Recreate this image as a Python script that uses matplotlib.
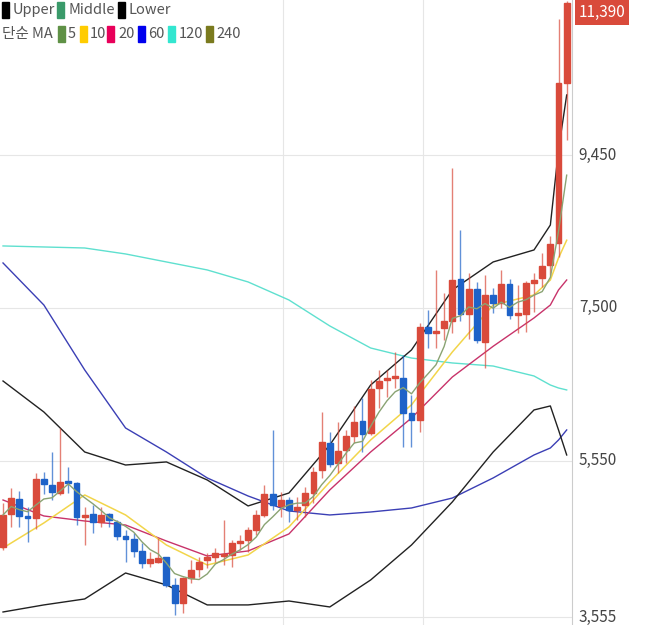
import numpy as np
import matplotlib.pyplot as plt
from matplotlib.patches import Rectangle

plt.rcParams['font.family'] = ['Noto Sans CJK KR', 'DejaVu Sans']

# daily candles: open, close, high, low
opens = [4452, 4873, 5064, 4834, 4822, 5319, 5242, 5140, 5281, 5268,
         4834, 4873, 4771, 4873, 4771, 4592, 4554, 4401, 4248, 4261,
         4324, 3968, 3738, 4057, 4171, 4286, 4324, 4337, 4350, 4503,
         4541, 4669, 4860, 5128, 4975, 5051, 4924, 4988, 5140, 5434,
         5778, 5523, 5689, 5867, 6058, 5905, 6479, 6581, 6606, 6606,
         6160, 6071, 7257, 7180, 7244, 7333, 7869, 7423, 7741, 7066,
         7665, 7563, 7805, 7410, 7423, 7818, 7882, 8047, 8328, 10368]
closes = [4860, 5076, 4847, 4822, 5319, 5255, 5153, 5281, 5268, 4834,
          4860, 4771, 4860, 4796, 4592, 4554, 4401, 4248, 4299, 4312,
          3968, 3738, 4057, 4159, 4261, 4324, 4375, 4337, 4503, 4528,
          4669, 4860, 5128, 4988, 5051, 4924, 4962, 5140, 5408, 5791,
          5510, 5676, 5867, 6046, 5893, 6466, 6568, 6606, 6619, 6160,
          6071, 7257, 7180, 7206, 7333, 7856, 7423, 7741, 7091, 7665,
          7563, 7805, 7410, 7423, 7818, 7856, 8034, 8315, 10368, 11390]
highs = [5013, 5204, 5166, 4962, 5396, 5408, 5663, 5970, 5472, 5281,
         4962, 4988, 4962, 4886, 4796, 4669, 4630, 4503, 4388, 4566,
         4324, 4057, 4069, 4286, 4324, 4375, 4439, 4796, 4541, 4605,
         4707, 4924, 5242, 5944, 5153, 5089, 5089, 5217, 5472, 6173,
         5918, 6046, 5944, 6250, 6351, 6581, 6709, 6709, 6938, 6900,
         6390, 7308, 7474, 7984, 7690, 9284, 8493, 7945, 7831, 7920,
         7754, 7984, 7869, 7792, 7843, 7945, 8200, 8417, 11184, 11413]
lows = [4414, 4707, 4707, 4516, 4681, 5128, 5051, 5115, 5140, 4732,
        4477, 4630, 4707, 4707, 4541, 4261, 4324, 4184, 4197, 4248,
        3942, 3585, 3610, 3993, 4069, 4184, 4261, 4222, 4197, 4414,
        4388, 4605, 4834, 4924, 4834, 4771, 4796, 4834, 5013, 5332,
        5472, 5396, 5523, 5778, 5663, 5880, 6224, 6364, 6479, 5727,
        5727, 5918, 6989, 6989, 7091, 7180, 7333, 7104, 7053, 6734,
        7435, 7499, 7359, 7180, 7193, 7448, 7767, 7920, 8149, 9641]

# indicator lines read at these candle indices
line_idx = [0, 5, 10, 15, 20, 25, 30, 35, 40, 45, 50, 55, 60, 65, 67, 68, 69]
ma10 = [4439, 4758, 5115, 4860, 4477, 4222, 4350, 4707, 5281, 5816, 6264, 6938, 7537, 7665, 7856, 8137, 8363]
ma20 = [5051, 4847, 4783, 4732, 4528, 4337, 4401, 4618, 5179, 5663, 6096, 6619, 7011, 7372, 7537, 7729, 7856]
ma60 = [8073, 7537, 6709, 5969, 5663, 5332, 5102, 4911, 4860, 4898, 4949, 5076, 5332, 5625, 5714, 5816, 5944]
ma120 = [8290, 8277, 8264, 8188, 8086, 7984, 7831, 7601, 7270, 6989, 6861, 6798, 6759, 6632, 6517, 6479, 6454]
upper = [6568, 6173, 5663, 5497, 5536, 5306, 4975, 5140, 5752, 6517, 6964, 7729, 8086, 8239, 8557, 9514, 10215]
lower = [3623, 3713, 3789, 4120, 3968, 3713, 3713, 3763, 3687, 4031, 4477, 5026, 5663, 6199, 6250, 5944, 5625]

price_ticks = [3555, 5550, 7500, 9450]
last_price = 11390

RED = '#d94a3b'
BLUE = '#1e62c8'

fig = plt.figure(figsize=(6.5, 6.25), dpi=100)
ax = fig.add_axes([0, 0, 572 / 650, 1])
n = len(opens)
x = np.arange(n)
ax.set_xlim(-0.37, 69.65)
ax.set_ylim(3457, 11426)

for yv in price_ticks:
    ax.axhline(yv, color='#e6e6e6', lw=0.8, zorder=0)
for xv in [34.3, 51.4]:
    ax.axvline(xv, color='#e6e6e6', lw=0.8, zorder=0)

ma5 = np.convolve(closes, np.ones(5) / 5, mode='full')[:n]
ma5[:4] = [np.mean(closes[:i + 1]) for i in range(4)]

ax.plot(line_idx, ma120, color='#5fe0cf', lw=1, zorder=1)
ax.plot(line_idx, ma60, color='#3b3fb5', lw=1, zorder=1)
ax.plot(line_idx, upper, color='#222222', lw=1, zorder=1)
ax.plot(line_idx, lower, color='#222222', lw=1, zorder=1)
ax.plot(line_idx, ma20, color='#c8336a', lw=1, zorder=1)
ax.plot(line_idx, ma10, color='#f2d54a', lw=1.1, zorder=1)
ax.plot(x, ma5, color='#8aa373', lw=1, zorder=3)

for i in range(n):
    col = RED if closes[i] >= opens[i] else BLUE
    ax.vlines(i, lows[i], highs[i], color=col, lw=1, alpha=0.7, zorder=2)
    lo = min(opens[i], closes[i])
    h = max(abs(closes[i] - opens[i]), 25)
    ax.add_patch(Rectangle((i - 0.36, lo), 0.72, h, color=col, zorder=2))

ax.set_xticks([])
ax.set_yticks([])
for s in ['top', 'left', 'bottom']:
    ax.spines[s].set_visible(False)
ax.spines['right'].set_color('#cccccc')

for yv in price_ticks:
    ax.text(1.012, yv, f'{yv:,}', transform=ax.get_yaxis_transform(),
            va='center', ha='left', fontsize=11, color='#444444')
ax.text(1.012, last_price - 120, f'{last_price:,}', transform=ax.get_yaxis_transform(),
        va='center', ha='left', fontsize=11, color='white',
        bbox=dict(boxstyle='square,pad=0.25', fc=RED, ec='none'))


def px(xp):
    return xp / 650


def py(yp):
    return 1 - yp / 625


def swatch(x0, yc, color):
    fig.patches.append(Rectangle((px(x0), py(yc + 8)), px(7), 16 / 625,
                                 color=color, transform=fig.transFigure))


row1 = [(2, '#000000', 13, 'Upper'), (57, '#3a9a6a', 68, 'Middle'), (118, '#000000', 128, 'Lower')]
for sx, c, tx, label in row1:
    swatch(sx, 10, c)
    fig.text(px(tx), py(10), label, fontsize=10.5, color='#555555', va='center')

fig.text(px(2), py(34), '단순 MA', fontsize=10.5, color='#555555', va='center')
row2 = [(58, '#5f9146', 68, '5'), (80, '#ffcc00', 90, '10'), (107, '#e8005a', 118, '20'),
        (138, '#0000ee', 148, '60'), (168, '#33e6d0', 179, '120'), (206, '#7a7a1e', 216, '240')]
for sx, c, tx, label in row2:
    swatch(sx, 34, c)
    fig.text(px(tx), py(34), label, fontsize=10.5, color='#555555', va='center')

fig.savefig('out.png', dpi=100)
